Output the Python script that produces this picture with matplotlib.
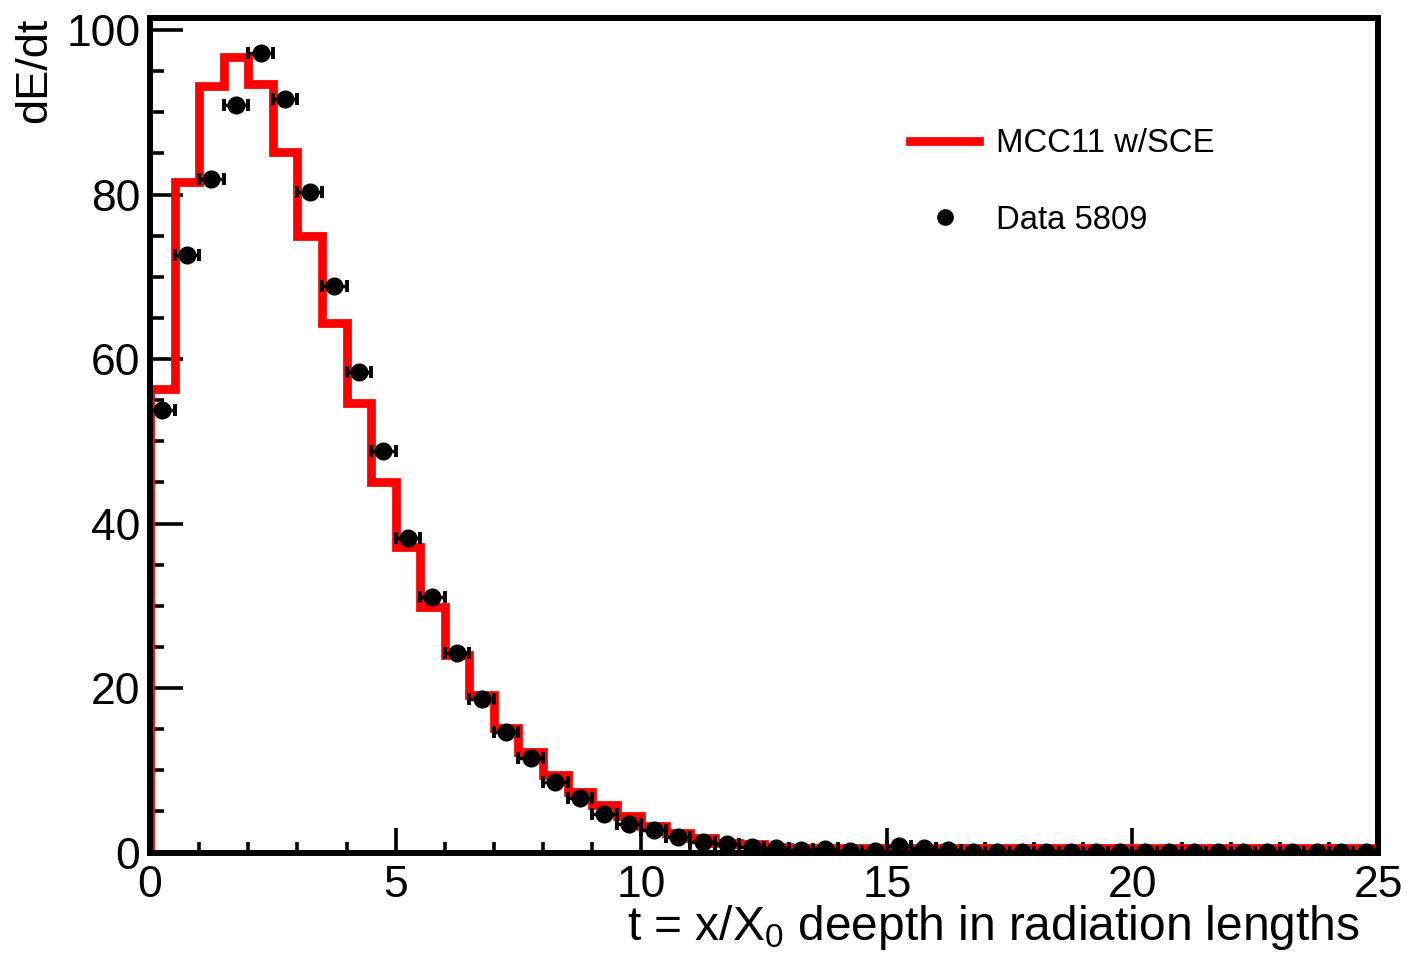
import numpy as np
import matplotlib.pyplot as plt
from matplotlib.lines import Line2D
from matplotlib.ticker import MultipleLocator

plt.rcParams['font.family'] = ['Liberation Sans', 'DejaVu Sans']
plt.rcParams['mathtext.fontset'] = 'custom'
plt.rcParams['mathtext.rm'] = 'Liberation Sans'
plt.rcParams['mathtext.it'] = 'Liberation Sans:italic'

# bins of width 0.5 from 0 to 25
bin_edges = np.linspace(0, 25, 51)
bin_centers = 0.5 * (bin_edges[:-1] + bin_edges[1:])

mc_values = [56.3, 81.5, 93.2, 96.7, 93.4, 85.2, 75.0, 64.4, 54.7, 45.1,
             37.1, 29.9, 24.0, 19.2, 15.2, 12.2, 9.4, 7.3, 5.8, 4.4,
             3.2, 2.4, 1.8, 1.2, 1.0, 0.7, 0.6, 0.5, 0.5, 0.5,
             0.5, 0.5, 0.5, 0.5, 0.5, 0.5, 0.5, 0.5, 0.5, 0.5,
             0.5, 0.5, 0.5, 0.5, 0.5, 0.5, 0.5, 0.5, 0.5, 0.5]

data_values = [53.8, 72.7, 81.9, 90.9, 97.2, 91.6, 80.3, 68.9, 58.4, 48.8,
               38.3, 31.1, 24.2, 18.7, 14.6, 11.5, 8.6, 6.6, 4.7, 3.5,
               2.7, 1.9, 1.3, 1.0, 0.7, 0.5, 0.3, 0.4, 0.2, 0.2,
               0.8, 0.6, 0.3, 0.1, 0.1, 0.1, 0.1, 0.1, 0.1, 0.1,
               0.1, 0.1, 0.1, 0.1, 0.1, 0.1, 0.1, 0.1, 0.1, 0.1]

fig = plt.figure(figsize=(14.09, 9.58), dpi=100)
ax = fig.add_axes([0.1065, 0.1101, 0.8715, 0.8711])

ax.stairs(mc_values, bin_edges, baseline=0, color='#ff0000', lw=6.3, zorder=2)
ax.errorbar(bin_centers, data_values, xerr=0.25, fmt='o', color='black',
            markersize=12, elinewidth=2.5, capsize=4.5, capthick=2.8, zorder=3)

ax.set_xlim(0, 25)
ax.set_ylim(0, 101.46)

ax.xaxis.set_major_locator(MultipleLocator(5))
ax.xaxis.set_minor_locator(MultipleLocator(1))
ax.yaxis.set_major_locator(MultipleLocator(20))
ax.yaxis.set_minor_locator(MultipleLocator(5))

for s in ax.spines.values():
    s.set_linewidth(4.3)

ax.tick_params(axis='y', which='major', direction='in', length=24, width=2.6,
               labelsize=32, pad=7)
ax.tick_params(axis='y', which='minor', direction='in', length=10, width=2.6)
ax.tick_params(axis='x', which='major', direction='in', length=18, width=2.6,
               labelsize=32, pad=9)
ax.tick_params(axis='x', which='minor', direction='in', length=8, width=2.6)

ax.set_xlabel(r't = x/X$_{\mathregular{0}}$ deepth in radiation lengths', fontsize=34.5,
              ha='right', va='top')
ax.xaxis.set_label_coords(0.985, -0.061)
ax.set_ylabel('dE/dt', fontsize=32.5, ha='right', va='bottom')
ax.yaxis.set_label_coords(-0.077, 1.0)

handles = [Line2D([], [], color='#ff0000', lw=6.3),
           Line2D([], [], color='black', marker='o', ls='none', markersize=11)]
ax.legend(handles, ['MCC11 w/SCE', 'Data 5809'], loc='upper left',
          bbox_to_anchor=(0.619, 0.868), frameon=False, fontsize=23.7,
          handlelength=2.1, handletextpad=0.5, labelspacing=1.38,
          borderaxespad=0, borderpad=0)

fig.savefig('out.png', dpi=100)
